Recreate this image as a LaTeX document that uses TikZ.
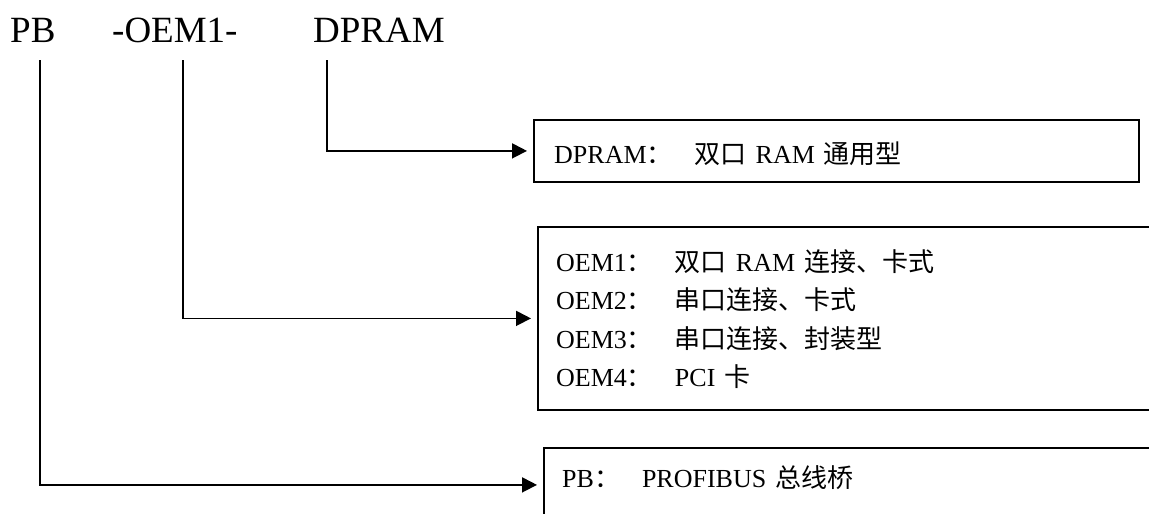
\documentclass[tikz,border=0pt]{standalone}
\usepackage{fontspec}
\setmainfont{Liberation Serif}
\newfontfamily\cjk{Noto Sans CJK SC}
\usetikzlibrary{arrows.meta}
\newcommand{\zh}[1]{{\cjk #1}}
\newcommand{\wsp}{\hspace{9pt}}
\newcommand{\colgap}{\zh{：}\hspace{22pt}}

\begin{document}
\begin{tikzpicture}[x=1pt, y=-1pt,
  title/.style={anchor=base west, inner sep=0pt, font=\fontsize{37}{44}\selectfont},
  box/.style={draw, line width=1.8pt, anchor=north west, inner sep=0pt},
  item/.style={anchor=base west, inner sep=0pt, font=\fontsize{26}{31}\selectfont},
  arr/.style={-{Triangle[length=15pt,width=15pt]}, line width=1.8pt, shorten >=6pt}]
  \useasboundingbox (0,0) rectangle (1149,514);
  \clip (0,0) rectangle (1149,514);
  % type code
  \node[title] (pb) at (10,42) {PB};
  \node[title] (oem) at (112,42) {-OEM1-};
  \node[title] (dpram) at (313,42) {DPRAM};
  \coordinate (pbtop) at (40,60);
  \coordinate (oemtop) at (183,60);
  \coordinate (dpramtop) at (327,60);
  % boxes
  \node[box, minimum width=605pt, minimum height=62pt] (dbox) at (533,119) {};
  \node[box, minimum width=660pt, minimum height=183pt] (obox) at (537,226) {};
  \node[box, minimum width=660pt, minimum height=74pt] (pbox) at (543,447) {};
  % box texts
  \node[item] (dtxt) at (554,163) {DPRAM\colgap\zh{双口}\wsp RAM\wsp\zh{通用型}};
  \node[item] (otxt1) at (556,271) {OEM1\colgap\zh{双口}\wsp RAM\wsp\zh{连接、卡式}};
  \node[item] (otxt2) at (556,309.5) {OEM2\colgap\zh{串口连接、卡式}};
  \node[item] (otxt3) at (556,348) {OEM3\colgap\zh{串口连接、封装型}};
  \node[item] (otxt4) at (556,386.5) {OEM4\colgap PCI\wsp\zh{卡}};
  \node[item] (ptxt) at (562,487) {PB\colgap PROFIBUS\wsp\zh{总线桥}};
  % connectors
  \draw[arr] (dpramtop) |- (dbox.west);
  \draw[arr] (oemtop) |- (obox.west);
  \draw[arr] (pbtop) |- (pbox.west);
\end{tikzpicture}
\end{document}
